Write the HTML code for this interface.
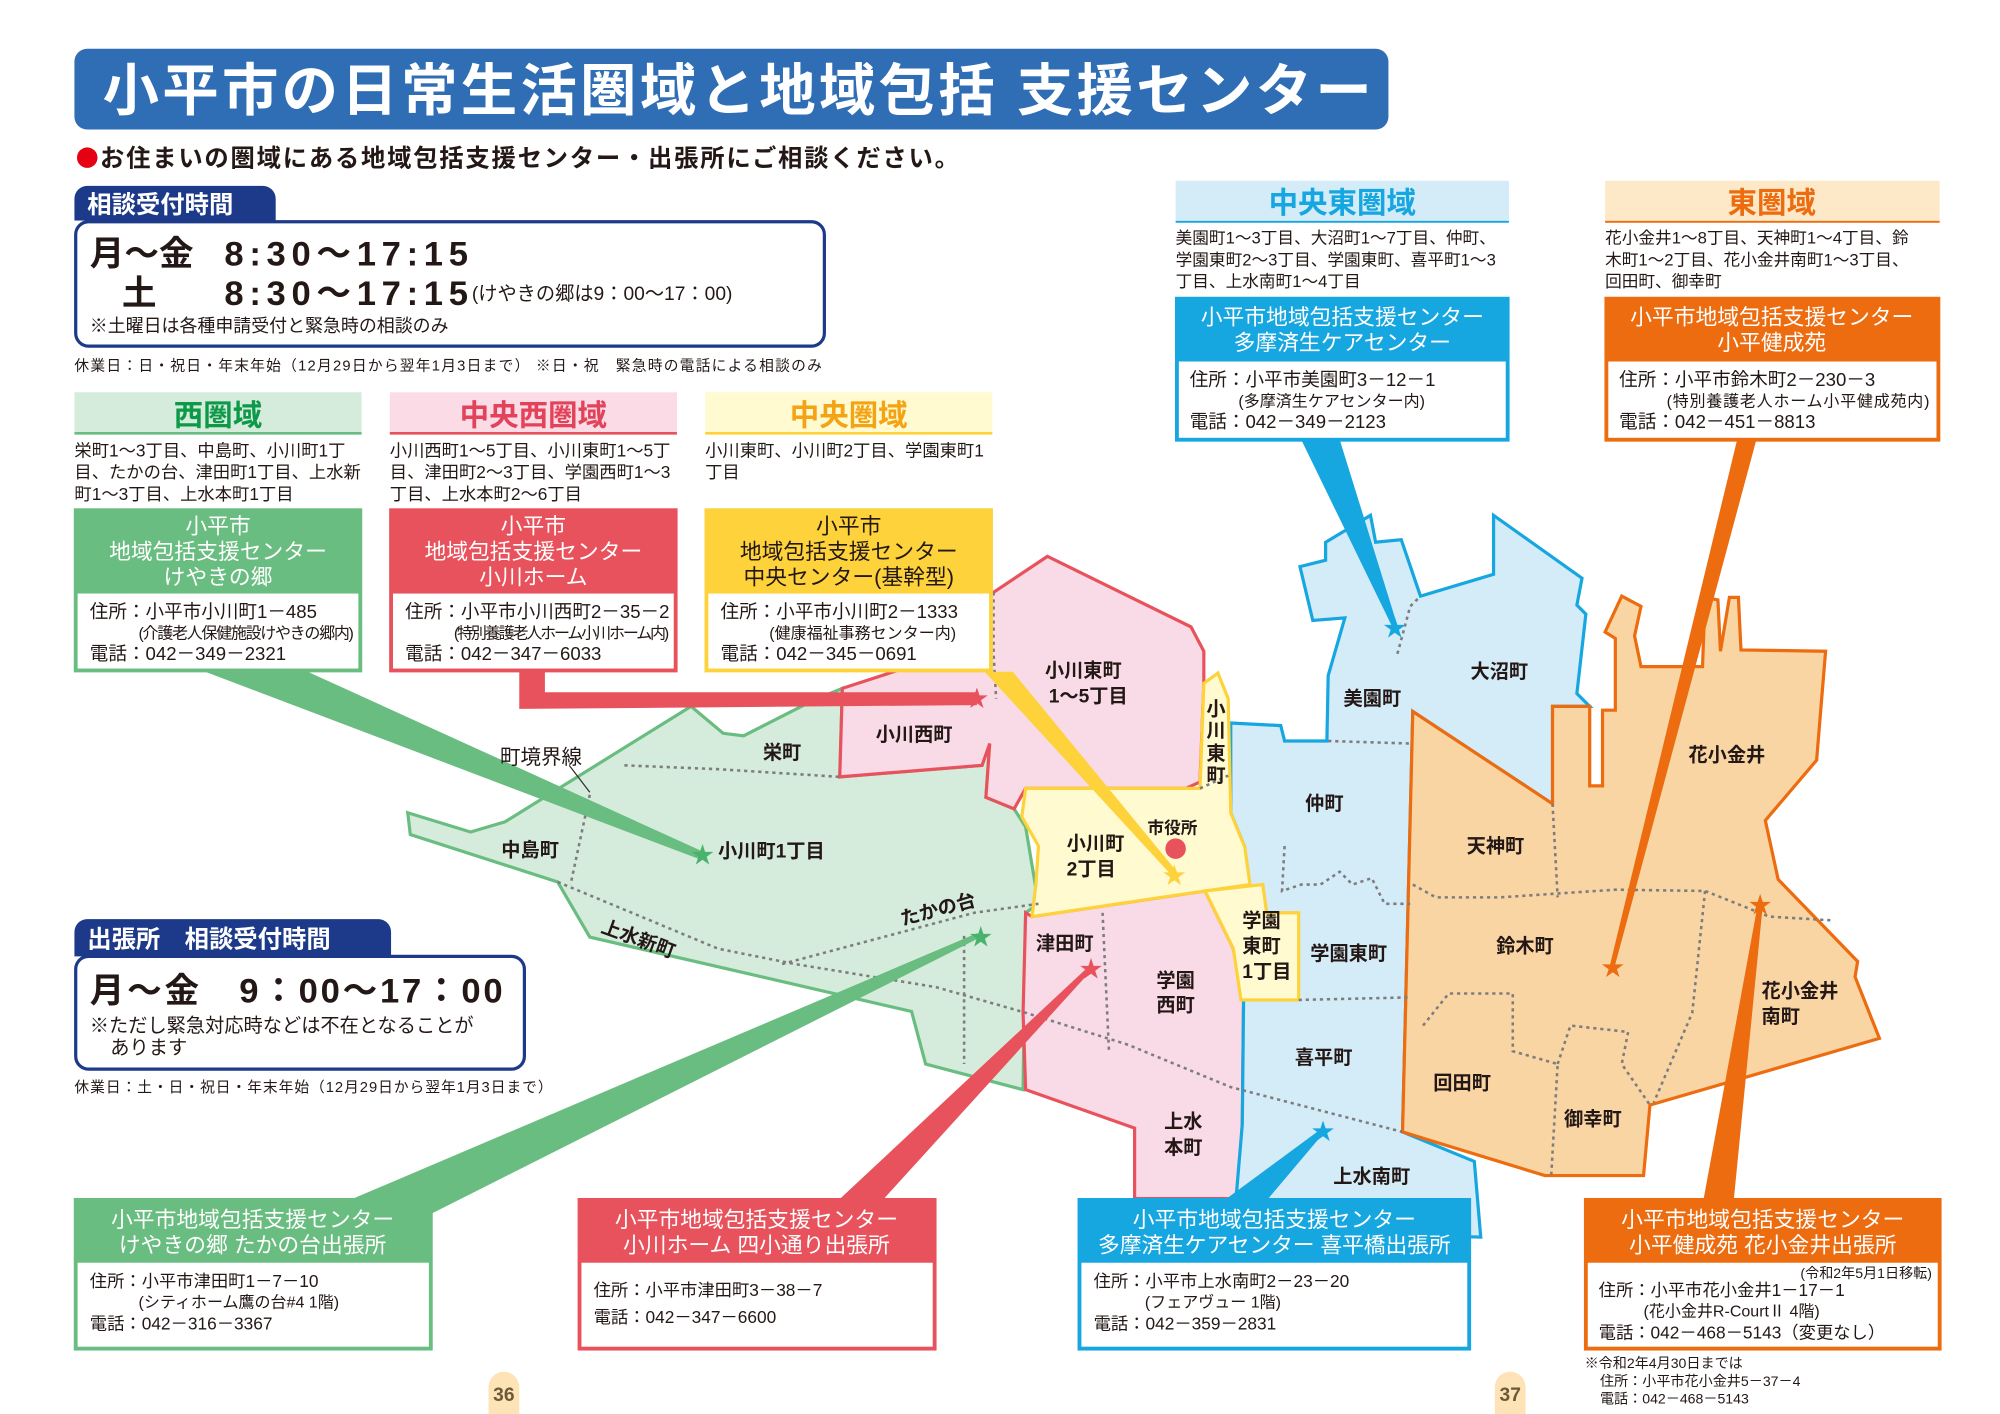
<!DOCTYPE html>
<html><head><meta charset="utf-8"><style>
html,body{margin:0;padding:0;background:#fff}
svg{display:block}
text{font-family:"Liberation Sans","Noto Sans CJK JP",sans-serif;fill:#231815}
.b{font-weight:bold}
.w{fill:#fff}
.s{font-size:13.5px}
.m{font-size:14.5px}
.h{font-size:17px;fill:#fff}
.map{font-size:15px;font-weight:bold}
.dot{fill:none;stroke:#7d7d7d;stroke-width:2;stroke-dasharray:2.5 3}
</style></head><body>
<svg width="2000" height="1414" viewBox="0 0 1560 1103" xmlns="http://www.w3.org/2000/svg">
<rect x="58" y="38" width="1025" height="63" rx="10" fill="#2f6db5"/>
<text x="80" y="86" class="b w" font-size="44" textLength="990">小平市の日常生活圏域と地域包括 支援センター</text>
<circle cx="68" cy="123" r="8" fill="#e50012"/>
<text x="78" y="130" class="b" font-size="19" textLength="670">お住まいの圏域にある地域包括支援センター・出張所にご相談ください。</text>

<path d="M58,172 V155 a10,10 0 0 1 10,-10 H205 a10,10 0 0 1 10,10 V174 Z" fill="#1d3a8a"/>
<text x="68" y="166" class="b w" font-size="19">相談受付時間</text>
<rect x="59" y="173" width="584" height="97" rx="10" fill="#fff" stroke="#1d3a8a" stroke-width="2.5"/>
<text x="70" y="207" class="b" font-size="27">月～金</text>
<text x="175" y="207" class="b" font-size="27" textLength="190">8:30～17:15</text>
<text x="95" y="238" class="b" font-size="27">土</text>
<text x="175" y="238" class="b" font-size="27" textLength="190">8:30～17:15</text>
<text x="368" y="234" font-size="15">(けやきの郷は9：00～17：00)</text>
<text x="70" y="259" font-size="14">※土曜日は各種申請受付と緊急時の相談のみ</text>
<text x="58" y="289" font-size="11.5" textLength="583">休業日：日・祝日・年末年始（12月29日から翌年1月3日まで）  ※日・祝　緊急時の電話による相談のみ</text>

<rect x="58" y="306" width="224" height="32" fill="#d5ebdb"/><line x1="58" y1="338" x2="282" y2="338" stroke="#6abd80" stroke-width="2"/>
<text x="170" y="332" class="b" font-size="23" text-anchor="middle" style="fill:#0d9a48">西圏域</text>
<rect x="304" y="306" width="224" height="32" fill="#fadbe6"/><line x1="304" y1="338" x2="528" y2="338" stroke="#e8525c" stroke-width="2"/>
<text x="416" y="332" class="b" font-size="23" text-anchor="middle" style="fill:#e2435a">中央西圏域</text>
<rect x="550" y="306" width="224" height="32" fill="#fffad0"/><line x1="550" y1="338" x2="774" y2="338" stroke="#fdd23a" stroke-width="2"/>
<text x="662" y="332" class="b" font-size="23" text-anchor="middle" style="fill:#f3a314">中央圏域</text>

<text x="58" y="356" class="s">栄町1～3丁目、中島町、小川町1丁</text>
<text x="58" y="373" class="s">目、たかの台、津田町1丁目、上水新</text>
<text x="58" y="390" class="s">町1～3丁目、上水本町1丁目</text>
<text x="304" y="356" class="s">小川西町1～5丁目、小川東町1～5丁</text>
<text x="304" y="373" class="s">目、津田町2～3丁目、学園西町1～3</text>
<text x="304" y="390" class="s">丁目、上水本町2～6丁目</text>
<text x="550" y="356" class="s">小川東町、小川町2丁目、学園東町1</text>
<text x="550" y="373" class="s">丁目</text>

<polygon points="318,634 367,649 394,641 539,551 564,572 580,574 635,546 657,537 655,606 766,597 772,580 769,622 791,631 800,645 810,705 800,712 798,850 722,830 711,789 460,731 435,688 320,651" fill="#d5ebdb" stroke="#6abd80" stroke-width="2.5"/>
<polygon points="657,537 700,523 775,462 817,434 929,489 939,508 939,533 936,610 925,615 800,615 791,631 769,622 772,580 766,597 655,606" fill="#f9dbe7" stroke="#e8525c" stroke-width="2.5"/>
<polygon points="805,715 940,695 962,740 970,780 969,877 966,935 885,935 885,880 800,850 798,790 800,712" fill="#f9dbe7" stroke="#e8525c" stroke-width="2.5"/>
<polygon points="960,564 999,566 1002,578 1035,578 1036,527 1049,482 1024,484 1014,442 1034,437 1034,423 1069,402 1073,423 1093,421 1108,465 1165,448 1165,402 1234,451 1230,472 1237,479 1230,541 1240,551 1211,551 1211,627 1102,555 1094,883 1150,906 1155,965 962,960 969,877 970,780 962,740 971,661 960,634" fill="#d4ebf8" stroke="#16a6e0" stroke-width="2.5"/>
<polygon points="1102,555 1211,627 1211,551 1240,551 1240,613 1250,613 1250,554 1260,554 1260,498 1252,493 1265,465 1280,473 1275,496 1280,520 1328,520 1330,466 1340,468 1342,508 1349,466 1356,466 1358,507 1424,508 1417,593 1377,640 1387,686 1449,750 1447,762 1466,810 1287,862 1282,917 1205,917 1094,883" fill="#fad5a4" stroke="#ec6c0f" stroke-width="2.5"/>
<polygon points="800,615 936,615 939,533 950,525 958,545 960,634 971,661 975,690 940,695 805,715 808,690 810,660 797,637" fill="#fffad0" stroke="#fdd23a" stroke-width="2.5"/>
<polygon points="940,695 985,690 988,712 1013,712 1013,780 968,780 962,740" fill="#fffad0" stroke="#fdd23a" stroke-width="2.5"/>
<polyline class="dot" points="487,597 560,600 655,606"/>
<polyline class="dot" points="460,620 445,690"/>
<polyline class="dot" points="435,688 500,715 560,740 620,752 730,770 800,790 880,815 960,848 1094,883"/>
<polyline class="dot" points="610,752 700,728 760,712 810,705"/>
<polyline class="dot" points="752,730 752,830"/>
<polyline class="dot" points="860,712 865,820"/>
<polyline class="dot" points="775,462 775,510 777,545"/>
<polyline class="dot" points="936,615 958,605"/>
<polyline class="dot" points="1036,578 1100,580"/>
<polyline class="dot" points="1090,510 1100,473 1108,465"/>
<polyline class="dot" points="1002,660 1000,695 1015,690 1030,690 1045,680 1055,690 1070,685 1080,705 1100,705"/>
<polyline class="dot" points="1013,780 1100,778"/>
<polyline class="dot" points="1102,690 1120,700 1170,700 1260,694 1330,695 1380,715 1430,718"/>
<polyline class="dot" points="1211,627 1215,700"/>
<polyline class="dot" points="1330,695 1320,790 1290,860"/>
<polyline class="dot" points="1110,800 1130,775 1180,775 1180,820 1215,830 1210,917"/>
<polyline class="dot" points="1215,830 1225,800 1270,805 1265,830 1287,862"/>

<polygon points="160,524 240,524 552,666 545,670" fill="#6abd80"/>
<polygon points="405,524 425,524 425,540 762,540 762,550 405,553" fill="#e8525c"/>
<polygon points="768,524 790,524 918,680 914,683" fill="#fdd23a"/>
<polygon points="1015,343 1045,343 1090,488 1086,489" fill="#16a6e0"/>
<polygon points="1355,343 1370,343 1260,752 1256,752" fill="#ec6c0f"/>
<polygon points="240,950 330,950 767,730 762,728" fill="#6abd80"/>
<polygon points="650,940 685,940 853,755 849,754" fill="#e8525c"/>
<polygon points="950,940 985,940 1034,882 1030,881" fill="#16a6e0"/>
<polygon points="1328,940 1352,940 1375,706 1371,706" fill="#ec6c0f"/>
<line x1="444" y1="597" x2="460" y2="618" stroke="#333" stroke-width="1"/>

<g font-size="18" text-anchor="middle">
<text x="548" y="673" style="fill:#49b36d">★</text>
<text x="762" y="551" style="fill:#e8525c">★</text>
<text x="916" y="689" style="fill:#fdd23a">★</text>
<text x="1088" y="496" style="fill:#16a6e0">★</text>
<text x="1258" y="761" style="fill:#ec6c0f">★</text>
<text x="765" y="737" style="fill:#49b36d">★</text>
<text x="851" y="762" style="fill:#e8525c">★</text>
<text x="1032" y="889" style="fill:#16a6e0">★</text>
<text x="1373" y="712" style="fill:#ec6c0f">★</text>
</g>
<circle cx="917" cy="662" r="8" fill="#e8525c"/>

<text x="390" y="596" font-size="16">町境界線</text>
<text x="595" y="592" class="map">栄町</text>
<text x="683" y="578" class="map">小川西町</text>
<text x="391" y="668" class="map">中島町</text>
<text x="560" y="669" class="map">小川町1丁目</text>
<text x="468" y="727" class="map" transform="rotate(20 468 727)">上水新町</text>
<text x="704" y="722" class="map" transform="rotate(-15 704 722)">たかの台</text>
<text x="815" y="528" class="map">小川東町</text>
<text x="818" y="548" class="map">1～5丁目</text>
<text x="941" y="558" class="map">小</text>
<text x="941" y="575" class="map">川</text>
<text x="941" y="593" class="map">東</text>
<text x="941" y="610" class="map">町</text>
<text x="895" y="650" font-size="13" class="b">市役所</text>
<text x="832" y="663" class="map">小川町</text>
<text x="832" y="683" class="map">2丁目</text>
<text x="808" y="741" class="map">津田町</text>
<text x="902" y="770" class="map">学園</text>
<text x="902" y="789" class="map">西町</text>
<text x="969" y="723" class="map">学園</text>
<text x="969" y="743" class="map">東町</text>
<text x="969" y="763" class="map">1丁目</text>
<text x="1018" y="632" class="map">仲町</text>
<text x="1022" y="749" class="map">学園東町</text>
<text x="1010" y="830" class="map">喜平町</text>
<text x="908" y="880" class="map">上水</text>
<text x="908" y="900" class="map">本町</text>
<text x="1040" y="923" class="map">上水南町</text>
<text x="1048" y="550" class="map">美園町</text>
<text x="1147" y="529" class="map">大沼町</text>
<text x="1144" y="665" class="map">天神町</text>
<text x="1167" y="743" class="map">鈴木町</text>
<text x="1317" y="594" class="map">花小金井</text>
<text x="1374" y="778" class="map">花小金井</text>
<text x="1374" y="798" class="map">南町</text>
<text x="1118" y="850" class="map">回田町</text>
<text x="1220" y="878" class="map">御幸町</text>

<g>
<rect x="59" y="398" width="222" height="125" fill="#fff" stroke="#6abd80" stroke-width="3"/>
<rect x="58" y="397" width="224" height="66" fill="#6abd80"/>
<text x="170" y="416" class="h" text-anchor="middle">小平市</text>
<text x="170" y="436" class="h" text-anchor="middle">地域包括支援センター</text>
<text x="170" y="456" class="h" text-anchor="middle">けやきの郷</text>
<text x="70" y="482" class="m">住所：小平市小川町1－485</text>
<text x="108" y="498" font-size="12.5" textLength="168">(介護老人保健施設けやきの郷内)</text>
<text x="70" y="515" class="m">電話：042－349－2321</text>

<rect x="305" y="398" width="222" height="125" fill="#fff" stroke="#e8525c" stroke-width="3"/>
<rect x="304" y="397" width="224" height="66" fill="#e8525c"/>
<text x="416" y="416" class="h" text-anchor="middle">小平市</text>
<text x="416" y="436" class="h" text-anchor="middle">地域包括支援センター</text>
<text x="416" y="456" class="h" text-anchor="middle">小川ホーム</text>
<text x="316" y="482" class="m">住所：小平市小川西町2－35－2</text>
<text x="354" y="498" font-size="12.5" textLength="168">(特別養護老人ホーム小川ホーム内)</text>
<text x="316" y="515" class="m">電話：042－347－6033</text>

<rect x="551" y="398" width="222" height="125" fill="#fff" stroke="#fdd23a" stroke-width="3"/>
<rect x="550" y="397" width="224" height="66" fill="#fdd23a"/>
<text x="662" y="416" class="h" text-anchor="middle" style="fill:#231815">小平市</text>
<text x="662" y="436" class="h" text-anchor="middle" style="fill:#231815">地域包括支援センター</text>
<text x="662" y="456" class="h" text-anchor="middle" style="fill:#231815">中央センター(基幹型)</text>
<text x="562" y="482" class="m">住所：小平市小川町2－1333</text>
<text x="600" y="498" font-size="12.5">(健康福祉事務センター内)</text>
<text x="562" y="515" class="m">電話：042－345－0691</text>
</g>

<rect x="917" y="141" width="260" height="32" fill="#d4ebf8"/><line x1="917" y1="173" x2="1177" y2="173" stroke="#16a6e0" stroke-width="1.5"/>
<text x="1047" y="166" class="b" font-size="23" text-anchor="middle" style="fill:#16a6e0">中央東圏域</text>
<text x="917" y="190" font-size="13">美園町1～3丁目、大沼町1～7丁目、仲町、</text>
<text x="917" y="207" font-size="13">学園東町2～3丁目、学園東町、喜平町1～3</text>
<text x="917" y="224" font-size="13">丁目、上水南町1～4丁目</text>
<rect x="918" y="233" width="258" height="110" fill="#fff" stroke="#16a6e0" stroke-width="3"/>
<rect x="917" y="232" width="260" height="50" fill="#16a6e0"/>
<text x="1047" y="253" class="h" text-anchor="middle">小平市地域包括支援センター</text>
<text x="1047" y="273" class="h" text-anchor="middle">多摩済生ケアセンター</text>
<text x="928" y="301" class="m">住所：小平市美園町3－12－1</text>
<text x="966" y="317" font-size="12.5">(多摩済生ケアセンター内)</text>
<text x="928" y="334" class="m">電話：042－349－2123</text>

<rect x="1252" y="141" width="261" height="32" fill="#fde9c8"/><line x1="1252" y1="173" x2="1513" y2="173" stroke="#ec6c0f" stroke-width="1.5"/>
<text x="1382" y="166" class="b" font-size="23" text-anchor="middle" style="fill:#ec6c0f">東圏域</text>
<text x="1252" y="190" font-size="13">花小金井1～8丁目、天神町1～4丁目、鈴</text>
<text x="1252" y="207" font-size="13">木町1～2丁目、花小金井南町1～3丁目、</text>
<text x="1252" y="224" font-size="13">回田町、御幸町</text>
<rect x="1253" y="233" width="259" height="110" fill="#fff" stroke="#ec6c0f" stroke-width="3"/>
<rect x="1252" y="232" width="261" height="50" fill="#ec6c0f"/>
<text x="1382" y="253" class="h" text-anchor="middle">小平市地域包括支援センター</text>
<text x="1382" y="273" class="h" text-anchor="middle">小平健成苑</text>
<text x="1263" y="301" class="m">住所：小平市鈴木町2－230－3</text>
<text x="1300" y="317" font-size="12.5" textLength="205">(特別養護老人ホーム小平健成苑内)</text>
<text x="1263" y="334" class="m">電話：042－451－8813</text>

<path d="M58,746 V727 a10,10 0 0 1 10,-10 H295 a10,10 0 0 1 10,10 V748 Z" fill="#1d3a8a"/>
<text x="68" y="739" class="b w" font-size="19">出張所　相談受付時間</text>
<rect x="59" y="746" width="350" height="88" rx="10" fill="#fff" stroke="#1d3a8a" stroke-width="2.5"/>
<text x="70" y="782" class="b" font-size="27" textLength="322">月～金　9：00～17：00</text>
<text x="70" y="805" font-size="15">※ただし緊急対応時などは不在となることが</text>
<text x="86" y="822" font-size="15">あります</text>
<text x="58" y="852" font-size="11.5" textLength="373">休業日：土・日・祝日・年末年始（12月29日から翌年1月3日まで）</text>

<rect x="59" y="936" width="277" height="116" fill="#fff" stroke="#6abd80" stroke-width="3"/>
<rect x="58" y="935" width="279" height="50" fill="#6abd80"/>
<text x="197" y="957" class="h" text-anchor="middle">小平市地域包括支援センター</text>
<text x="197" y="977" class="h" text-anchor="middle">けやきの郷 たかの台出張所</text>
<text x="70" y="1004" font-size="13.5">住所：小平市津田町1－7－10</text>
<text x="108" y="1020" font-size="12.5">(シティホーム鷹の台#4 1階)</text>
<text x="70" y="1037" font-size="13.5">電話：042－316－3367</text>

<rect x="452" y="936" width="277" height="116" fill="#fff" stroke="#e8525c" stroke-width="3"/>
<rect x="451" y="935" width="279" height="50" fill="#e8525c"/>
<text x="590" y="957" class="h" text-anchor="middle">小平市地域包括支援センター</text>
<text x="590" y="977" class="h" text-anchor="middle">小川ホーム 四小通り出張所</text>
<text x="463" y="1011" font-size="13.5">住所：小平市津田町3－38－7</text>
<text x="463" y="1032" font-size="13.5">電話：042－347－6600</text>

<rect x="842" y="936" width="304" height="116" fill="#fff" stroke="#16a6e0" stroke-width="3"/>
<rect x="841" y="935" width="306" height="50" fill="#16a6e0"/>
<text x="994" y="957" class="h" text-anchor="middle">小平市地域包括支援センター</text>
<text x="994" y="977" class="h" text-anchor="middle" textLength="275">多摩済生ケアセンター 喜平橋出張所</text>
<text x="853" y="1004" font-size="13.5">住所：小平市上水南町2－23－20</text>
<text x="893" y="1020" font-size="12.5">(フェアヴュー 1階)</text>
<text x="853" y="1037" font-size="13.5">電話：042－359－2831</text>

<rect x="1237" y="936" width="276" height="116" fill="#fff" stroke="#ec6c0f" stroke-width="3"/>
<rect x="1236" y="935" width="278" height="50" fill="#ec6c0f"/>
<text x="1375" y="957" class="h" text-anchor="middle">小平市地域包括支援センター</text>
<text x="1375" y="977" class="h" text-anchor="middle">小平健成苑 花小金井出張所</text>
<text x="1507" y="997" font-size="11" text-anchor="end">(令和2年5月1日移転)</text>
<text x="1247" y="1011" font-size="13.5">住所：小平市花小金井1－17－1</text>
<text x="1282" y="1027" font-size="12.5">(花小金井R-CourtⅡ 4階)</text>
<text x="1247" y="1044" font-size="13.5">電話：042－468－5143（変更なし）</text>
<text x="1236" y="1067" font-size="11">※令和2年4月30日までは</text>
<text x="1248" y="1081" font-size="11">住所：小平市花小金井5－37－4</text>
<text x="1248" y="1095" font-size="11">電話：042－468－5143</text>

<path d="M381,1103 V1082 a12,12 0 0 1 24,0 V1103 Z" fill="#fde3b5"/>
<text x="393" y="1093" class="b" font-size="15" text-anchor="middle" style="fill:#6b5a3a">36</text>
<path d="M1166,1103 V1082 a12,12 0 0 1 24,0 V1103 Z" fill="#fde3b5"/>
<text x="1178" y="1093" class="b" font-size="15" text-anchor="middle" style="fill:#6b5a3a">37</text>
</svg>
</body></html>
